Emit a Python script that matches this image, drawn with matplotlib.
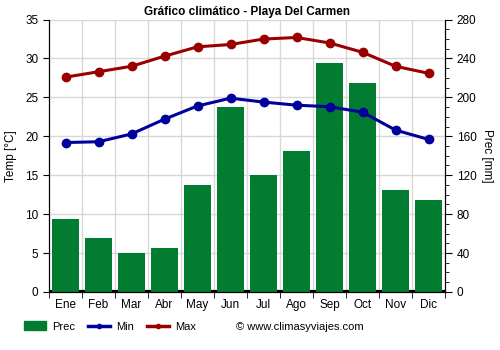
import matplotlib
matplotlib.use("Agg")
import matplotlib.pyplot as plt
import numpy as np
from matplotlib.lines import Line2D
from matplotlib.patches import Patch

plt.rcParams['font.family'] = ['Liberation Sans', 'DejaVu Sans']

months = ['Ene', 'Feb', 'Mar', 'Abr', 'May', 'Jun', 'Jul', 'Ago', 'Sep', 'Oct', 'Nov', 'Dic']
prec = [75, 55, 40, 45, 110, 190, 120, 145, 235, 215, 105, 95]
t_min = [19.2, 19.3, 20.3, 22.2, 23.9, 24.9, 24.4, 24.0, 23.8, 23.1, 20.8, 19.6]
t_max = [27.6, 28.3, 29.0, 30.3, 31.5, 31.8, 32.5, 32.7, 32.0, 30.8, 29.0, 28.1]

green = '#027c30'
blue = '#00009a'
red = '#9a0000'
fs = 8.5

fig = plt.figure(figsize=(5, 3.5), dpi=100)
ax = fig.add_axes([0.098, 0.166, 0.792, 0.778])
ax2 = ax.twinx()

x = np.arange(len(months))

# precipitation bars on the right axis, drawn underneath the temperature lines
ax2.bar(x, prec, width=0.8, color=green, zorder=2)
ax2.axhline(0, color='black', lw=3, zorder=1)
ax2.set_ylim(0, 280)
ax2.set_yticks(np.arange(0, 281, 40))
ax2.set_yticks(np.arange(0, 281, 10), minor=True)
ax2.set_ylabel('Prec [mm]', fontsize=fs, rotation=270, labelpad=12)

ax.set_zorder(ax2.get_zorder() + 1)
ax.patch.set_visible(False)
ax.plot(x, t_min, color=blue, lw=2.2, marker='o', ms=6, zorder=3)
ax.plot(x, t_max, color=red, lw=2.2, marker='o', ms=6, zorder=3)
ax.set_ylim(0, 35)
ax.set_xlim(-0.5, 11.5)
ax.set_yticks(np.arange(0, 36, 5))
ax.set_ylabel('Temp [°C]', fontsize=fs, labelpad=6)

# grid on the lower axes so it sits behind the bars
for v in np.arange(0.5, 11, 1):
    ax2.axvline(v, color='#d8d8d8', lw=1, zorder=0)
for v in np.arange(5, 36, 5):
    ax2.axhline(v * 8, color='#d8d8d8', lw=1, zorder=0)

ax.set_xticks(x)
ax.set_xticklabels(months)
ax.set_xticks(np.arange(-0.5, 12, 1), minor=True)
ax.tick_params(axis='x', which='major', length=0, pad=5)
ax.tick_params(axis='x', which='minor', length=4, direction='out')
for a in (ax, ax2):
    a.tick_params(labelsize=fs, colors='black')
    a.spines['top'].set_visible(False)
ax.tick_params(axis='y', length=4)
ax2.tick_params(axis='y', which='major', length=5)
ax2.tick_params(axis='y', which='minor', length=3)

ax.set_title('Gráfico climático - Playa Del Carmen', fontsize=fs, fontweight='bold', pad=3)

handles = [Patch(color=green),
           Line2D([0], [0], color=blue, lw=2.5, marker='o', ms=3),
           Line2D([0], [0], color=red, lw=2.5, marker='o', ms=3)]
fig.legend(handles, ['Prec', 'Min', 'Max'], loc='center left', bbox_to_anchor=(0.048, 0.067),
           ncol=3, frameon=False, fontsize=8, handlelength=2.0, handleheight=0.8,
           handletextpad=0.5, columnspacing=1.2, borderpad=0, borderaxespad=0)
fig.text(0.472, 0.067, '© www.climasyviajes.com', fontsize=8, va='center')

fig.savefig('out.png', dpi=100)
